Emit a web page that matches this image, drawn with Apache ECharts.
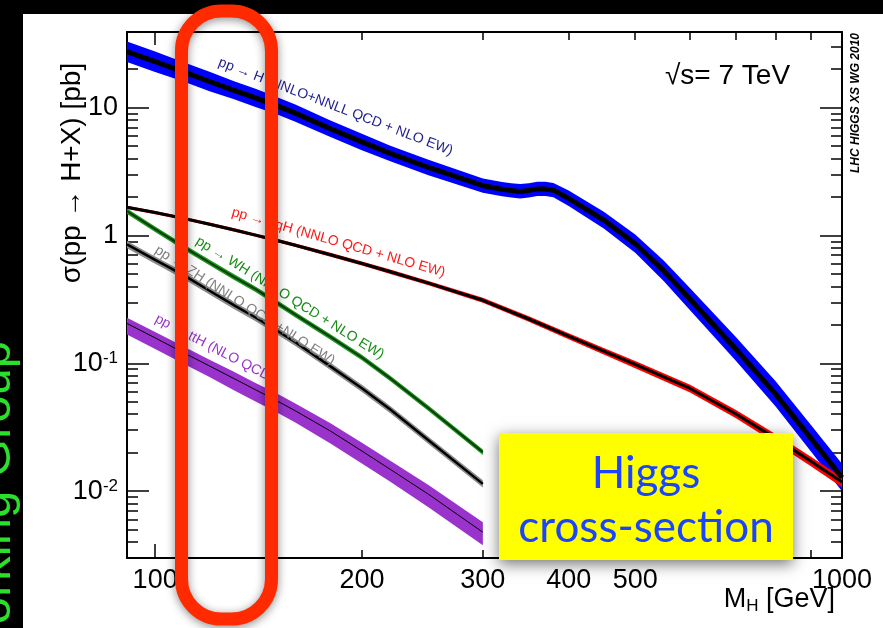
<!DOCTYPE html>
<html>
<head>
<meta charset="utf-8">
<script src="https://cdn.jsdelivr.net/npm/echarts@6/dist/echarts.min.js"></script>
<style>
  html, body { margin: 0; padding: 0; background: #000; }
  #chart { width: 883px; height: 628px; }
</style>
</head>
<body>
<div id="chart"></div>
<script>
// Higgs mass points (GeV) and cross sections (pb)
const massGGH = [91, 100, 110, 120, 130, 140, 150, 160, 180, 200, 220, 250, 300, 320, 330, 340, 350, 360, 370, 380, 400, 450, 500, 550, 600, 700, 800, 900, 1000];
const sigmaGGH = [27.4, 22.9, 19.0, 16.0, 13.7, 11.9, 10.4, 9.05, 6.84, 5.39, 4.38, 3.40, 2.45, 2.30, 2.25, 2.21, 2.25, 2.31, 2.31, 2.26, 1.95, 1.32, 0.86, 0.53, 0.32, 0.13, 0.0577, 0.0261, 0.0128];
const upGGH = [.20, .20, .19, .19, .18, .18, .17, .17, .16, .16, .15, .15, .14, .14, .14, .14, .14, .14, .14, .14, .15, .16, .18, .20, .22, .24, .26, .27, .28];
const downGGH = [.17, .17, .16, .16, .15, .15, .145, .145, .14, .14, .13, .13, .12, .12, .12, .12, .12, .12, .12, .12, .13, .14, .15, .17, .18, .19, .20, .21, .22];

const massQQH = [91, 100, 110, 120, 130, 140, 150, 160, 180, 200, 220, 250, 300, 350, 400, 450, 500, 600, 700, 800, 900, 1000];
const sigmaQQH = [1.66, 1.51, 1.36, 1.225, 1.108, 1.006, 0.917, 0.838, 0.706, 0.603, 0.520, 0.424, 0.311, 0.222, 0.163, 0.1245, 0.098, 0.0638, 0.0403, 0.0259, 0.0172, 0.0118];
const uncQQH = [.03, .03, .03, .03, .03, .03, .03, .03, .035, .035, .04, .04, .045, .05, .055, .06, .065, .07, .075, .08, .085, .09];

const massVH = [91, 100, 110, 120, 130, 140, 150, 160, 180, 200, 220, 250, 300];
const sigmaWH = [1.55, 1.12, 0.813, 0.614, 0.477, 0.380, 0.301, 0.240, 0.161, 0.111, 0.0762, 0.0445, 0.0202];
const uncWH = [.05, .05, .05, .05, .05, .05, .05, .05, .05, .05, .05, .05, .05];
const sigmaZH = [0.85, 0.643, 0.489, 0.369, 0.286, 0.228, 0.182, 0.146, 0.0946, 0.0638, 0.0435, 0.0250, 0.0114];
const uncZH = [.065, .065, .065, .065, .065, .065, .065, .065, .065, .065, .065, .065, .065];
const sigmaTTH = [0.205, 0.158, 0.121, 0.0953, 0.0763, 0.0621, 0.0513, 0.0425, 0.0295, 0.0206, 0.0148, 0.00946, 0.00477];
const upTTH = [.11, .11, .12, .12, .13, .13, .14, .14, .15, .16, .17, .18, .20];
const downTTH = [.18, .18, .18, .18, .19, .19, .19, .19, .20, .20, .20, .21, .21];

// axis ticks and labels
const massLabels = [100, 200, 300, 400, 500, 1000];
const massMinorTicks = [200, 300, 400, 500, 600, 700, 800, 900];
const massMajorTicks = [100];
const sigmaMajorTicks = [0.01, 0.1, 1, 10];
const sigmaMinorTicks = [0.004, 0.005, 0.006, 0.007, 0.008, 0.009, 0.02, 0.03, 0.04, 0.05, 0.06, 0.07, 0.08, 0.09,
  0.2, 0.3, 0.4, 0.5, 0.6, 0.7, 0.8, 0.9, 2, 3, 4, 5, 6, 7, 8, 9, 20, 30];

const FONT = '"Liberation Sans", Arial, Helvetica, sans-serif';
const X_MIN = 91, X_MAX = 1000, Y_MIN = 0.003, Y_MAX = 39;

const chart = echarts.init(document.getElementById('chart'));

function xAxis(position, ticks, len, withLine, withLabels) {
  return {
    type: 'log', logBase: 10, position: position, min: X_MIN, max: X_MAX, gridIndex: 0,
    axisLine: { show: withLine, onZero: false, lineStyle: { color: '#000', width: 2 } },
    axisTick: { show: true, inside: true, length: len, customValues: ticks, lineStyle: { color: '#000', width: 1.5 } },
    axisLabel: withLabels ? {
      show: true, customValues: massLabels, margin: 9, color: '#000', fontSize: 27, fontFamily: FONT,
      formatter: v => String(Math.round(v))
    } : { show: false },
    splitLine: { show: false }, minorTick: { show: false }, minorSplitLine: { show: false }
  };
}

function yAxis(position, ticks, len, withLine, withLabels) {
  return {
    type: 'log', logBase: 10, position: position, min: Y_MIN, max: Y_MAX, gridIndex: 0,
    axisLine: { show: withLine, onZero: false, lineStyle: { color: '#000', width: 2 } },
    axisTick: { show: true, inside: true, length: len, customValues: ticks, lineStyle: { color: '#000', width: 1.5 } },
    axisLabel: withLabels ? {
      show: true, customValues: sigmaMajorTicks, margin: 9, color: '#000', fontSize: 27, fontFamily: FONT,
      formatter: v => {
        const e = Math.round(Math.log10(v));
        return e >= 0 ? String(Math.round(v)) : '10{s|' + e + '}';
      },
      rich: { s: { fontSize: 17, fontFamily: FONT, color: '#000', verticalAlign: 'top' } }
    } : { show: false },
    splitLine: { show: false }, minorTick: { show: false }, minorSplitLine: { show: false }
  };
}

function band(name, masses, sigma, up, down, color) {
  return {
    type: 'custom', name: name, clip: true, silent: true,
    data: [[masses[0], sigma[0]]],
    renderItem: function (params, api) {
      const pts = [];
      for (let i = 0; i < masses.length; i++) pts.push(api.coord([masses[i], sigma[i] * (1 + up[i])]));
      for (let i = masses.length - 1; i >= 0; i--) pts.push(api.coord([masses[i], sigma[i] * (1 - down[i])]));
      return { type: 'polygon', shape: { points: pts }, style: { fill: color, stroke: null } };
    }
  };
}

function curve(name, masses, sigma, color, width) {
  return {
    type: 'line', name: name, symbol: 'none', clip: true, smooth: false, silent: true,
    data: masses.map((m, i) => [m, sigma[i]]),
    lineStyle: { color: color, width: width, join: 'round' }
  };
}

function curveLabel(text, x, y, deg, color) {
  return {
    type: 'text', x: x, y: y, rotation: -deg * Math.PI / 180, z: 4,
    style: { text: text, fill: color, font: '14px ' + FONT, align: 'left', verticalAlign: 'middle' }
  };
}

const option = {
  animation: false,
  backgroundColor: '#000',
  grid: { left: 127, right: 41, top: 32, bottom: 70, containLabel: false, outerBoundsMode: 'none' },
  xAxis: [
    xAxis('bottom', massMinorTicks, 8, true, true),
    xAxis('bottom', massMajorTicks, 14, false, false),
    xAxis('top', massMinorTicks, 8, true, false),
    xAxis('top', massMajorTicks, 13, false, false)
  ],
  yAxis: [
    yAxis('left', sigmaMajorTicks, 22, true, true),
    yAxis('left', sigmaMinorTicks, 11, false, false),
    yAxis('right', sigmaMajorTicks, 22, true, false),
    yAxis('right', sigmaMinorTicks, 11, false, false)
  ],
  series: [
    band('ttH band', massVH, sigmaTTH, upTTH, downTTH, '#9933cc'),
    curve('ttH', massVH, sigmaTTH, '#000', 1),
    band('ZH band', massVH, sigmaZH, uncZH, uncZH, '#8c8c8c'),
    curve('ZH', massVH, sigmaZH, '#000', 2.5),
    band('WH band', massVH, sigmaWH, uncWH, uncWH, '#1e961e'),
    curve('WH', massVH, sigmaWH, '#0a3f0a', 2),
    band('ggH band', massGGH, sigmaGGH, upGGH, downGGH, '#0000ff'),
    curve('ggH', massGGH, sigmaGGH, '#000', 5),
    band('qqH band', massQQH, sigmaQQH, uncQQH, uncQQH, '#ff0000'),
    curve('qqH', massQQH, sigmaQQH, '#000', 3)
  ],
  graphic: [
    // white page behind the plot
    { type: 'rect', z: -1, shape: { x: 23, y: 14, width: 860, height: 614 }, style: { fill: '#fff' } },
    // green side text of the slide
    {
      type: 'text', x: 21, y: 341, rotation: Math.PI / 2, z: 1,
      style: { text: 'LHC Higgs Cross Section Working Group', fill: '#2be02b', font: '49px ' + FONT, align: 'right', verticalAlign: 'bottom' }
    },
    // axis titles
    {
      type: 'text', x: 72, y: 173, rotation: Math.PI / 2, z: 5,
      style: { text: 'σ(pp → H+X) [pb]', fill: '#000', font: '28px ' + FONT, align: 'center', verticalAlign: 'middle' }
    },
    {
      type: 'text', x: 835, y: 600, z: 5,
      style: {
        text: 'M{sub|H} [GeV]', fill: '#000', font: '27px ' + FONT, align: 'right', verticalAlign: 'middle',
        rich: { sub: { fontSize: 17, fontFamily: FONT, fill: '#000', verticalAlign: 'bottom', padding: [12, 0, 0, 0] } }
      }
    },
    {
      type: 'text', x: 665, y: 76, z: 5,
      style: { text: '√s= 7 TeV', fill: '#000', font: '28px ' + FONT, align: 'left', verticalAlign: 'middle' }
    },
    {
      type: 'text', x: 856, y: 103, rotation: Math.PI / 2, z: 5,
      style: { text: 'LHC HIGGS XS WG 2010', fill: '#000', font: 'italic bold 12px ' + FONT, align: 'center', verticalAlign: 'middle' }
    },
    // labels along the curves
    curveLabel('pp → H (NNLO+NNLL QCD + NLO EW)', 219, 62, 21, '#1f1f8f'),
    curveLabel('pp → qqH (NNLO QCD + NLO EW)', 232, 212, 16, '#ff1a1a'),
    curveLabel('pp → WH (NNLO QCD + NLO EW)', 197, 240, 32, '#1a8c1a'),
    curveLabel('pp → ZH (NNLO QCD +NLO EW)', 156, 249, 32.5, '#808080'),
    curveLabel('pp → ttH (NLO QCD)', 156, 318, 27.5, '#9933cc'),
    // yellow caption box
    {
      type: 'rect', z: 10, shape: { x: 499, y: 433, width: 294, height: 127 },
      style: { fill: '#ffff00', shadowBlur: 14, shadowColor: 'rgba(0,0,0,0.55)', shadowOffsetY: 4 }
    },
    {
      type: 'text', x: 646, y: 474, z: 11,
      style: { text: 'Higgs', fill: '#1a44ff', font: '44px Lato, "Open Sans", sans-serif', align: 'center', verticalAlign: 'middle' }
    },
    {
      type: 'text', x: 646, y: 528, z: 11,
      style: { text: 'cross-section', fill: '#1a44ff', font: '44px Lato, "Open Sans", sans-serif', align: 'center', verticalAlign: 'middle' }
    },
    // red highlight around the low mass region
    {
      type: 'rect', z: 20, shape: { x: 181.5, y: 11, width: 90, height: 608, r: 40 },
      style: { fill: 'none', stroke: '#ff2a00', lineWidth: 13, shadowBlur: 10, shadowColor: 'rgba(0,0,0,0.45)', shadowOffsetY: 2 }
    }
  ]
};

chart.setOption(option);
</script>
</body>
</html>
